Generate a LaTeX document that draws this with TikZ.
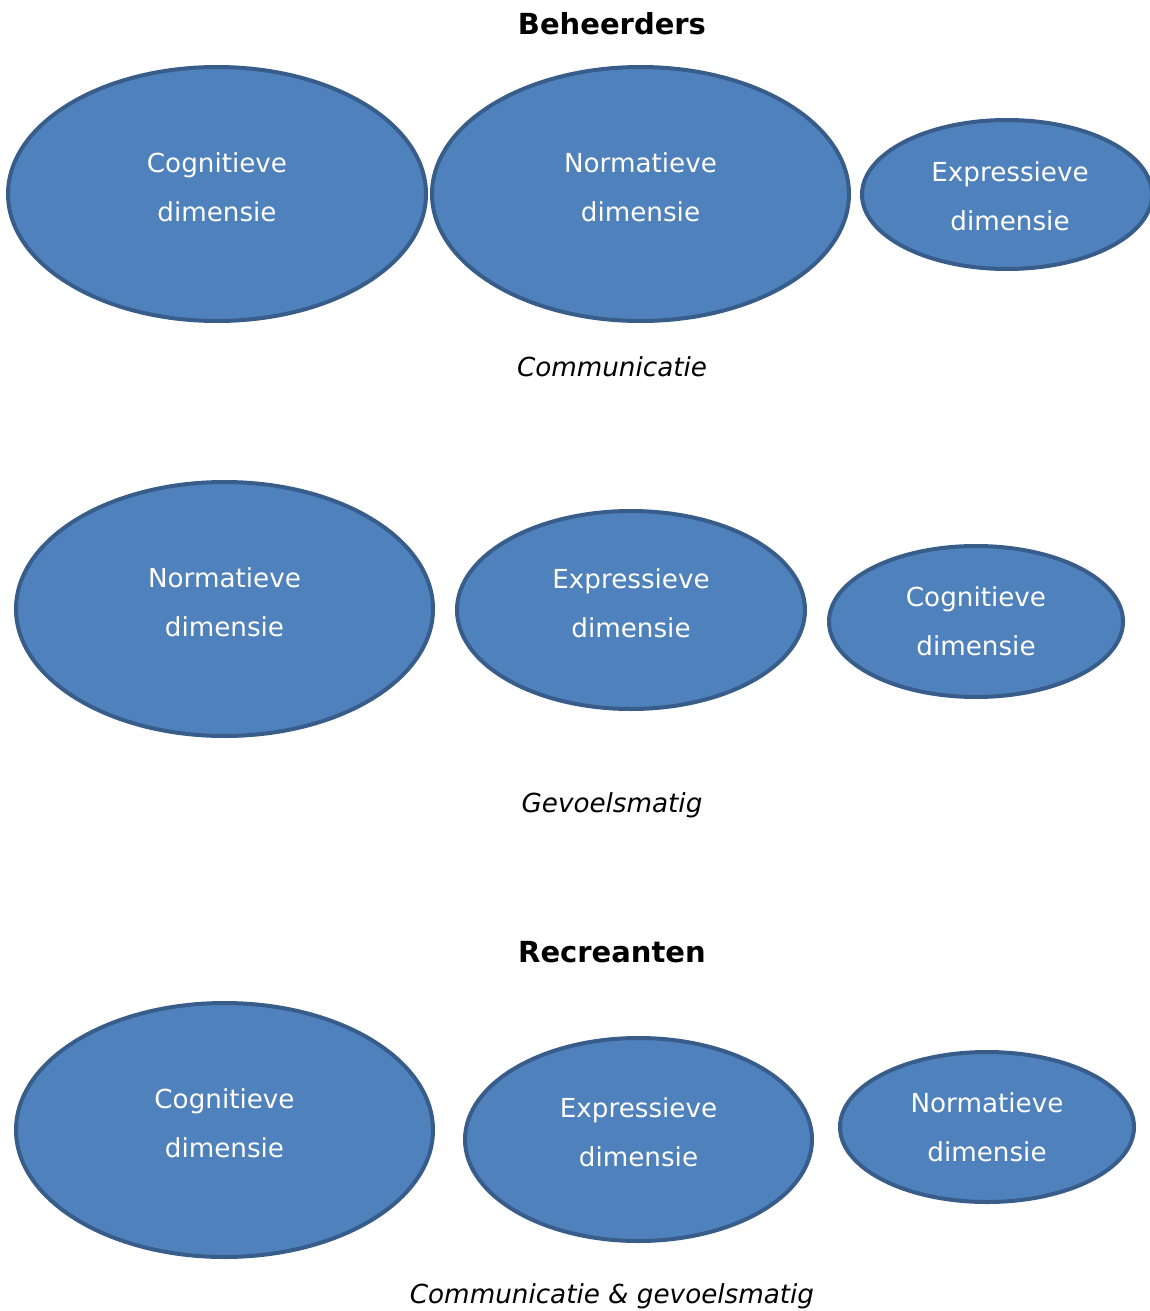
\documentclass[tikz,border=0pt]{standalone}
\usepackage{fontspec}
\setmainfont{DejaVu Sans}
\usetikzlibrary{shapes.geometric}
\definecolor{blfill}{HTML}{4F81BD}
\definecolor{bldraw}{HTML}{385D8A}
\tikzset{
  ell/.style={ellipse, draw=bldraw, fill=blfill, line width=4pt, inner sep=0pt},
  etext/.style={text=white, align=center, font=\fontsize{26.2}{49}\selectfont},
  heading/.style={font=\fontsize{29}{34}\selectfont\bfseries},
  caption/.style={font=\fontsize{26.2}{30}\selectfont\itshape},
}
\newcommand{\myell}[8]{%
  \node[ell, minimum width=#4pt, minimum height=#5pt] (#1) at (#2,#3) {};
  \node[etext] (#1t) at (#8,#3-#6) {#7\\dimensie};
}
\begin{document}
\begin{tikzpicture}[x=1pt,y=-1pt]
\useasboundingbox (0,0) rectangle (1150,1311);
\node[heading] (t1) at (612,24) {Beheerders};
\myell{a1}{217}{194}{418}{254}{7}{Cognitieve}{217}
\myell{a2}{640.5}{194}{417}{254}{7}{Normatieve}{640.5}
\myell{a3}{1007}{194.5}{290}{149}{-2}{Expressieve}{1010}
\node[caption] (c1) at (612,367) {Communicatie};

\myell{b1}{224.5}{609}{417}{254}{7}{Normatieve}{224.5}
\myell{b2}{631}{610}{348}{198}{7}{Expressieve}{631}
\myell{b3}{976}{621.5}{294}{151}{0}{Cognitieve}{976}
\node[caption] (c2) at (612,805) {Gevoelsmatig};

\node[heading] (t2) at (612,952) {Recreanten};
\myell{r1}{224.5}{1130}{417}{254}{7}{Cognitieve}{224.5}
\myell{r2}{638.5}{1139.5}{347}{203}{7}{Expressieve}{638.5}
\myell{r3}{987}{1127}{294}{150}{0}{Normatieve}{987}
\node[caption] (c3) at (612,1296) {Communicatie \& gevoelsmatig};
\end{tikzpicture}
\end{document}
